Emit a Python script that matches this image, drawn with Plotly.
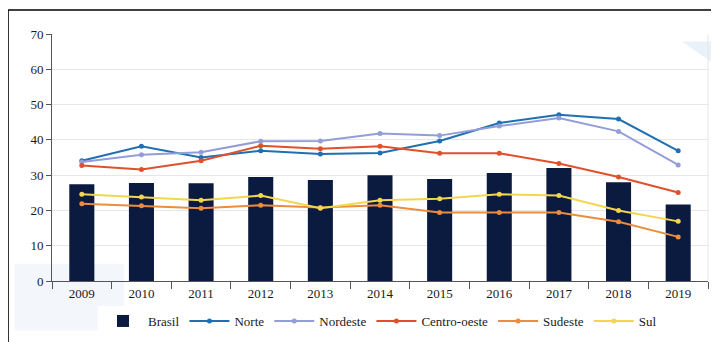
import plotly.graph_objects as go

years = ["2009", "2010", "2011", "2012", "2013", "2014", "2015", "2016", "2017", "2018", "2019"]
brasil = [27.4, 27.8, 27.7, 29.5, 28.6, 30.0, 28.9, 30.6, 32.0, 28.0, 21.7]
norte = [34.1, 38.2, 35.0, 36.9, 36.0, 36.3, 39.7, 44.8, 47.1, 45.9, 36.9]
nordeste = [33.7, 35.8, 36.5, 39.6, 39.7, 41.8, 41.2, 43.9, 46.2, 42.4, 32.9]
centro_oeste = [32.7, 31.6, 34.1, 38.3, 37.5, 38.2, 36.2, 36.2, 33.3, 29.5, 25.1]
sudeste = [21.9, 21.3, 20.6, 21.5, 20.8, 21.5, 19.4, 19.4, 19.4, 16.8, 12.5]
sul = [24.6, 23.8, 22.9, 24.2, 20.6, 22.9, 23.3, 24.6, 24.2, 20.0, 16.9]

font_family = "Liberation Serif, Times New Roman, serif"
text_color = "#1a1a1a"

fig = go.Figure()
fig.add_trace(go.Bar(x=years, y=brasil, name="Brasil", marker=dict(color="#0b1a3f", line=dict(width=0)), width=0.42))

line_series = [
    ("Norte", norte, "#1f6fb2"),
    ("Nordeste", nordeste, "#939ed8"),
    ("Centro-oeste", centro_oeste, "#e0502a"),
    ("Sudeste", sudeste, "#ec8c3c"),
    ("Sul", sul, "#f3d650"),
]
for name, vals, col in line_series:
    fig.add_trace(go.Scatter(x=years, y=vals, name=name, mode="lines+markers",
                             line=dict(color=col, width=2), marker=dict(color=col, size=5)))

# decorative background elements and frame
fig.add_shape(type="rect", xref="paper", yref="paper", x0=-0.057, x1=0.11, y0=-0.2, y1=0.07,
              fillcolor="rgba(200,220,240,0.22)", line=dict(width=0), layer="below")
fig.add_shape(type="path", xref="paper", yref="paper",
              path="M 0.96 0.97 L 1.02 0.97 L 1.02 0.86 Z",
              fillcolor="rgba(200,220,240,0.4)", line=dict(width=0), layer="below")
fig.add_shape(type="line", xref="paper", yref="paper", x0=-0.067, x1=1.02, y0=1.097, y1=1.097,
              line=dict(color="black", width=1.5))
fig.add_shape(type="line", xref="paper", yref="paper", x0=-0.067, x1=-0.067, y0=1.097, y1=-0.25,
              line=dict(color="black", width=1.5))
fig.add_shape(type="line", xref="paper", yref="paper", x0=1, x1=1, y0=0, y1=1,
              line=dict(color="#e6e6e6", width=1))

fig.update_layout(
    width=711, height=334,
    margin=dict(l=44, r=11, t=26, b=61, autoexpand=False),
    paper_bgcolor="white", plot_bgcolor="white",
    font=dict(family=font_family, size=13, color=text_color),
    legend=dict(orientation="h", x=0.5, xanchor="center", y=-0.162, yanchor="middle",
                font=dict(family=font_family, size=13, color=text_color),
                itemwidth=40, tracegroupgap=0),
    xaxis=dict(type="category", range=[-0.5, 10.5], showgrid=False, showline=True,
               linecolor="#555555", linewidth=1, ticks="outside", tickson="boundaries",
               ticklen=7, tickcolor="#555555", automargin=False,
               tickfont=dict(family=font_family, size=13, color=text_color)),
    yaxis=dict(range=[0, 70], dtick=10, showgrid=True, gridcolor="#e6e6e6", gridwidth=1,
               showline=True, linecolor="#555555", linewidth=1, ticks="outside", ticklen=5,
               tickcolor="#555555", zeroline=False, automargin=False,
               tickfont=dict(family=font_family, size=13, color=text_color)),
)

fig.write_html("out.html")
